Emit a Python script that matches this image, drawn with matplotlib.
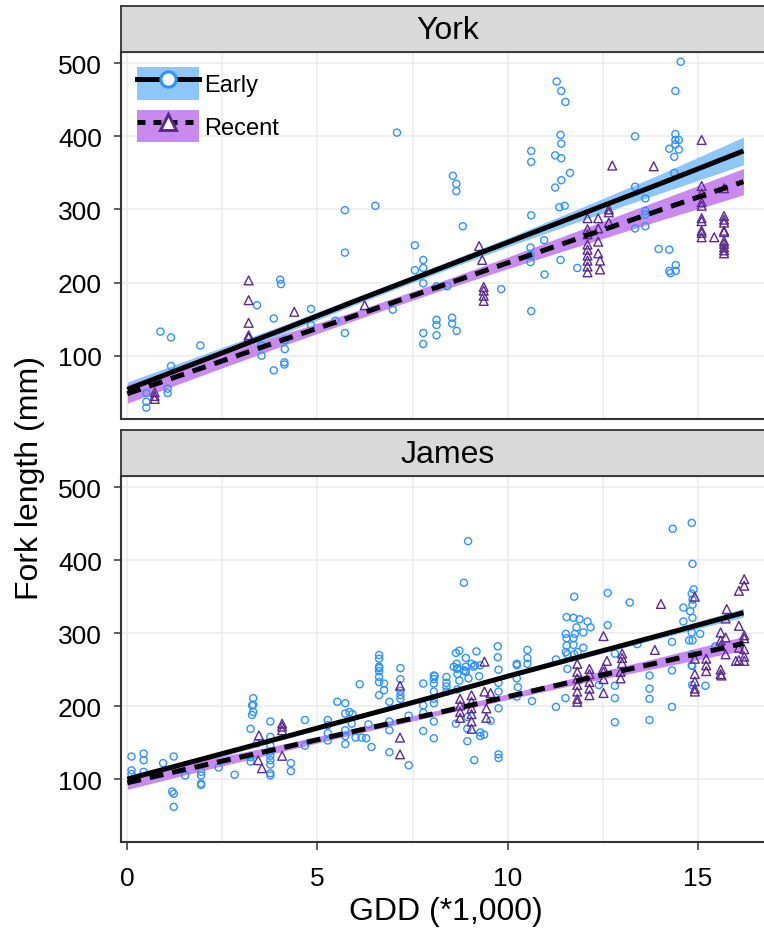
import numpy as np
import matplotlib
matplotlib.use("Agg")
import matplotlib.pyplot as plt
from matplotlib.patches import Patch
from matplotlib.lines import Line2D
from matplotlib.legend_handler import HandlerTuple

plt.rcParams["font.family"] = ["Liberation Sans", "DejaVu Sans"]

# ---- York: early period (circles) ----
york_early_x = [
    14.55, 11.29, 11.41, 11.52, 14.41, 11.39, 11.41, 10.62, 10.62, 11.25,
    11.41, 11.64, 11.41, 11.25, 11.36, 11.50, 10.62, 13.35, 14.41, 14.41,
    14.50, 14.41, 14.25, 14.50, 14.38, 14.38, 8.56, 8.65, 8.65, 8.82,
    13.35, 13.62, 13.62, 13.62, 13.35, 13.62, 10.96, 10.60, 13.97, 14.25,
    10.60, 10.60, 10.97, 11.39, 11.83, 9.83, 10.62, 8.13, 8.41, 8.13,
    8.13, 8.13, 8.54, 8.54, 8.66, 14.42, 14.25, 14.42, 14.28,
    0.87, 1.15, 1.92, 1.15, 1.06, 1.06, 0.50, 0.50, 0.50, 5.72,
    4.02, 4.04, 3.41, 3.85, 4.83, 4.83, 5.47, 5.72, 3.53, 3.53,
    4.14, 4.14, 4.13, 4.13, 3.85, 7.56, 7.56, 7.78, 7.78, 7.78,
    6.98, 7.78, 7.78, 7.09, 5.72, 6.52,
]
york_early_y = [
    502, 475, 462, 447, 462, 402, 390, 380, 365, 374,
    370, 350, 340, 330, 303, 305, 292, 400, 403, 395,
    395, 389, 383, 382, 372, 350, 346, 335, 325, 277,
    331, 315, 298, 293, 274, 277, 258, 248, 246, 245,
    237, 228, 211, 231, 220, 191, 161, 195, 195, 149,
    142, 128, 152, 144, 134, 224, 216, 216, 213,
    133, 125, 114, 86, 55, 49, 49, 37, 29, 241,
    204, 198, 169, 151, 164, 142, 148, 131, 114, 100,
    121, 109, 91, 88, 80, 251, 217, 231, 220, 199,
    163, 131, 116, 405, 299, 305,
]

# ---- York: recent period (triangles) ----
york_recent_x = [
    15.10, 12.75, 13.84, 9.25, 12.10, 12.38, 12.66, 12.66, 12.66, 12.10,
    12.38, 12.10, 12.38, 15.10, 15.10, 15.69, 15.10, 15.10, 15.10, 15.10,
    15.69, 15.69, 15.69, 15.10, 15.69, 15.10, 15.43, 15.69, 15.69, 15.69,
    15.69, 15.69, 15.10, 15.69,
    12.10, 12.10, 12.10, 12.10, 12.10, 12.10, 12.38, 12.43, 12.43,
    9.33, 9.37, 9.37, 9.37, 9.37,
    3.19, 3.19, 3.19, 3.19, 3.19, 4.39, 6.24, 0.72, 0.72, 0.72,
]
york_recent_y = [
    395, 360, 359, 250, 288, 288, 300, 296, 282, 273,
    274, 266, 256, 332, 322, 329, 310, 305, 288, 284,
    291, 286, 282, 271, 271, 262, 262, 257, 253, 248,
    244, 240, 268, 269,
    252, 245, 237, 230, 222, 214, 240, 230, 218,
    231, 194, 189, 182, 175,
    203, 176, 145, 128, 125, 160, 169, 50, 45, 41,
]

# ---- James: early period (circles) ----
james_early_x = [
    8.96, 8.85, 14.34, 14.84, 14.86, 14.89, 14.84, 14.86, 14.86, 14.62,
    14.80, 14.62, 14.86, 14.84, 15.06, 14.77, 14.86, 14.32, 14.86, 14.84,
    14.32, 11.75, 12.63, 13.21, 11.55, 11.73, 11.89, 12.10, 11.81, 12.18,
    11.77, 11.53, 11.99, 11.55, 11.73, 11.55, 11.73, 11.99, 11.53, 11.57,
    11.75, 11.84, 12.63, 12.82, 13.41, 11.27, 11.57, 13.73, 15.46,
    8.64, 8.73, 8.90, 9.18, 9.74, 9.74, 10.52, 10.52, 10.52, 10.24,
    8.66, 9.05, 9.14, 9.28, 8.58, 8.67, 8.85, 8.08, 8.39, 8.90, 9.25,
    8.06, 8.06, 8.06, 8.06, 8.06, 8.06, 8.06, 8.06,
    8.39, 8.39, 8.39, 8.68, 8.68, 8.73, 8.68, 8.90, 8.90, 8.97, 9.10,
    8.94, 8.94, 8.94, 8.64, 9.28, 9.38, 9.28, 9.12, 9.76, 9.76,
    9.76, 9.76, 9.76, 9.76, 9.55, 10.24, 10.24, 10.27, 10.24, 10.64,
    11.27, 11.52, 12.40, 12.82, 12.82, 12.82, 13.73, 13.73, 13.73,
    14.32, 14.85, 14.85, 15.20,
    0.11, 0.11, 0.11, 0.43, 0.43, 0.43, 0.94, 1.22, 1.18, 1.22,
    1.22, 1.52, 1.94, 1.94, 1.94, 1.94, 2.40, 2.82, 3.24, 3.28,
    3.28, 3.31, 3.31, 3.31, 3.24, 3.24, 3.41, 3.76, 3.76, 3.76,
    3.76, 3.76, 3.76, 3.76, 3.76, 3.76, 4.30, 4.30, 4.67, 4.67,
    5.27, 5.27, 5.27, 5.27, 5.52, 5.73, 5.73, 5.73, 5.73, 5.73,
    6.11, 5.84, 5.92, 5.90, 6.00, 6.16, 6.28, 6.42, 6.34,
    6.62, 6.62, 6.62, 6.62, 6.62, 6.75, 6.75, 6.62, 6.62, 6.62,
    6.89, 6.89, 6.89, 6.89, 7.18, 7.18, 7.18, 7.18, 7.18, 7.40,
    7.40, 7.78, 7.78, 7.78, 7.78,
]
james_early_y = [
    426, 369, 443, 451, 395, 360, 354, 346, 339, 335,
    330, 316, 321, 301, 299, 290, 290, 288, 271, 256,
    249, 350, 355, 342, 322, 321, 319, 316, 308, 308,
    299, 299, 301, 293, 293, 283, 284, 280, 274, 271,
    271, 274, 311, 272, 285, 264, 251, 242, 282,
    273, 276, 266, 275, 282, 267, 277, 266, 258, 258,
    258, 258, 256, 256, 254, 251, 249, 241, 240, 248, 241,
    242, 237, 231, 220, 210, 204, 179, 156,
    232, 227, 220, 252, 244, 235, 223, 254, 247, 238, 254,
    185, 169, 152, 176, 164, 161, 159, 126, 134, 129,
    197, 220, 232, 250, 180, 256, 238, 226, 213, 207,
    199, 211, 229, 228, 211, 178, 224, 210, 181,
    199, 255, 229, 228,
    131, 112, 107, 135, 126, 110, 122, 131, 83, 80,
    62, 105, 110, 105, 94, 92, 116, 106, 169, 188,
    201, 211, 192, 202, 130, 124, 149, 179, 158, 146,
    138, 132, 126, 120, 108, 105, 122, 111, 181, 146,
    181, 174, 163, 153, 206, 204, 190, 167, 159, 148,
    230, 192, 189, 176, 157, 157, 156, 144, 175,
    270, 265, 254, 248, 240, 231, 222, 233, 215, 252,
    206, 179, 167, 137, 252, 237, 221, 215, 210, 187,
    119, 231, 201, 191, 166,
]

# ---- James: recent period (triangles) ----
james_recent_x = [
    16.22, 16.22, 16.08, 14.92, 14.03, 15.76, 15.73, 16.08, 15.60, 15.73,
    16.22, 16.22, 15.60, 15.60, 15.73, 16.08, 16.22, 16.22, 16.08, 16.22,
    12.52, 13.87, 13.01, 13.01, 13.01, 12.61, 12.52, 14.92, 15.22, 15.22,
    15.22, 14.92, 15.60, 15.60, 9.39, 11.83, 12.15, 11.83, 12.15,
    8.75, 8.75, 8.75, 8.75, 9.05, 9.05, 9.05, 9.05, 9.05, 9.05,
    9.39, 9.44, 9.44, 9.55, 11.83, 11.83, 11.83, 11.83, 11.83,
    12.15, 12.15, 12.15, 12.52, 12.52, 12.52, 12.97, 12.97,
    14.92, 14.92, 14.92, 15.62, 16.00,
    3.46, 3.44, 3.54, 4.07, 4.07, 4.07, 4.07, 7.17, 7.17, 7.17,
]
james_recent_y = [
    374, 365, 358, 350, 340, 333, 320, 310, 301, 294,
    297, 293, 290, 283, 271, 280, 278, 268, 263, 262,
    296, 277, 272, 266, 259, 262, 252, 265, 265, 256,
    248, 244, 250, 244, 261, 258, 251, 247, 244,
    210, 201, 192, 184, 215, 206, 197, 189, 179, 169,
    220, 197, 184, 218, 238, 229, 220, 210, 206,
    233, 224, 215, 247, 237, 218, 247, 238,
    234, 224, 220, 242, 262,
    160, 126, 115, 176, 172, 167, 132, 228, 157, 134,
]

# ---- fitted lines with confidence bands (centre, half-width) ----
fit_x = [0.0, 2.0, 4.0, 6.0, 8.0, 10.0, 12.0, 14.0, 16.2]
york_early_fit = [54, 94, 134, 175, 215, 255, 295, 335, 380]
york_early_ci = [10, 8, 6, 5, 5, 6, 9, 13, 19]
york_recent_fit = [48, 84, 120, 155, 191, 227, 263, 299, 338]
york_recent_ci = [13, 10, 8, 6, 6, 8, 11, 14, 18]
james_early_fit = [100, 128, 156, 184, 212, 241, 269, 297, 328]
james_early_ci = [5, 4, 3, 2.5, 2.5, 2.5, 3, 4, 6]
james_recent_fit = [95, 119, 142, 166, 189, 213, 237, 260, 286]
james_recent_ci = [9, 7, 5, 4, 3.5, 4, 5, 7, 9.5]

EARLY_PT = "#2E93FF"
RECENT_PT = "#5B2A8E"
EARLY_BAND = "#8DC6F8"
RECENT_BAND = "#C98AF0"
EDGE = "#333333"
GRID = "#EBEBEB"

W, H = 764, 937
fig = plt.figure(figsize=(W / 100, H / 100), dpi=100)

LEFT = 120.7


def box(top, bottom):
    return [LEFT / W, 1 - bottom / H, (W - LEFT) / W, (bottom - top) / H]


def strip(rect, label):
    sax = fig.add_axes(rect)
    sax.set_facecolor("#D9D9D9")
    sax.set_xticks([])
    sax.set_yticks([])
    for side in ("left", "top", "bottom"):
        sax.spines[side].set_color(EDGE)
        sax.spines[side].set_linewidth(1.3)
    sax.spines["right"].set_visible(False)
    sax.text((448 - LEFT) / (W - LEFT), 0.47, label, ha="center", va="center",
             fontsize=23, transform=sax.transAxes)


def panel(rect, early, recent, show_x):
    ax = fig.add_axes(rect)
    (ex, ey, ef, eci), (rx, ry, rf, rci) = early, recent
    ef, eci, rf, rci = map(np.asarray, (ef, eci, rf, rci))

    ax.fill_between(fit_x, ef - eci, ef + eci, color=EARLY_BAND, lw=0, zorder=1)
    ax.fill_between(fit_x, rf - rci, rf + rci, color=RECENT_BAND, lw=0, zorder=1)
    ax.scatter(ex, ey, s=26, facecolors="none", edgecolors=EARLY_PT,
               linewidths=1.0, zorder=2)
    ax.scatter(rx, ry, s=40, marker="^", facecolors="none",
               edgecolors=RECENT_PT, linewidths=1.0, zorder=2)
    ax.plot(fit_x, ef, color="black", lw=3.6, solid_capstyle="butt", zorder=3)
    ax.plot(fit_x, rf, color="black", lw=3.6, dashes=(2.8, 1.8),
            dash_capstyle="butt", zorder=3)

    ax.set_xlim(-0.174, 16.74)
    ax.set_ylim(13.5, 515.7)
    ax.set_xticks([0, 5, 10, 15])
    ax.set_xticks([2.5, 7.5, 12.5], minor=True)
    ax.set_yticks([100, 200, 300, 400, 500])
    ax.grid(True, which="both", axis="x", color=GRID, lw=1.1, zorder=0)
    ax.grid(True, which="major", axis="y", color=GRID, lw=1.1, zorder=0)
    ax.set_axisbelow(True)
    ax.tick_params(axis="y", length=5.4, width=1.1, color=EDGE, pad=8,
                   labelsize=19)
    ax.tick_params(axis="x", which="minor", length=0)
    if show_x:
        ax.tick_params(axis="x", length=5.4, width=1.1, color=EDGE, pad=12,
                       labelsize=19)
    else:
        ax.tick_params(axis="x", length=0, labelbottom=False)
    for side in ("left", "top", "bottom"):
        ax.spines[side].set_color(EDGE)
        ax.spines[side].set_linewidth(1.5)
    ax.spines["right"].set_visible(False)
    return ax


ax_york = panel(box(52.7, 420.0),
                (york_early_x, york_early_y, york_early_fit, york_early_ci),
                (york_recent_x, york_recent_y, york_recent_fit, york_recent_ci),
                show_x=False)
strip(box(6.7, 52.7), "York")

ax_james = panel(box(476.7, 843.3),
                 (james_early_x, james_early_y, james_early_fit, james_early_ci),
                 (james_recent_x, james_recent_y, james_recent_fit, james_recent_ci),
                 show_x=True)
strip(box(430.7, 476.7), "James")

# legend: band swatch, fitted line and an enlarged point stacked in one key
early_key = (Patch(facecolor=EARLY_BAND, edgecolor="none"),
             Line2D([], [], color="black", lw=3.6),
             Line2D([], [], ls="none", marker="o", ms=11, mfc="white",
                    mec=EARLY_PT, mew=2.2))
recent_key = (Patch(facecolor=RECENT_BAND, edgecolor="none"),
              Line2D([], [], color="black", lw=3.6, dashes=(1.6, 1.6)),
              Line2D([], [], ls="none", marker="^", ms=11, mfc="white",
                     mec=RECENT_PT, mew=2.2))
ax_york.legend([early_key, recent_key], ["Early", "Recent"],
               handler_map={tuple: HandlerTuple(ndivide=1, pad=0)},
               loc="upper left", bbox_to_anchor=(0.025, 1 - 15.5 / 367.3),
               frameon=False, fontsize=17, handlelength=2.65, handleheight=1.75,
               handletextpad=0.2, labelspacing=0.42, borderpad=0,
               borderaxespad=0)

fig.text(30 / W, 1 - 478 / H, "Fork length (mm)", rotation=90,
         ha="center", va="center", fontsize=23)
fig.text(446 / W, 1 - 912 / H, "GDD (*1,000)", ha="center", va="center",
         fontsize=23)

fig.savefig("out.png", dpi=100)
